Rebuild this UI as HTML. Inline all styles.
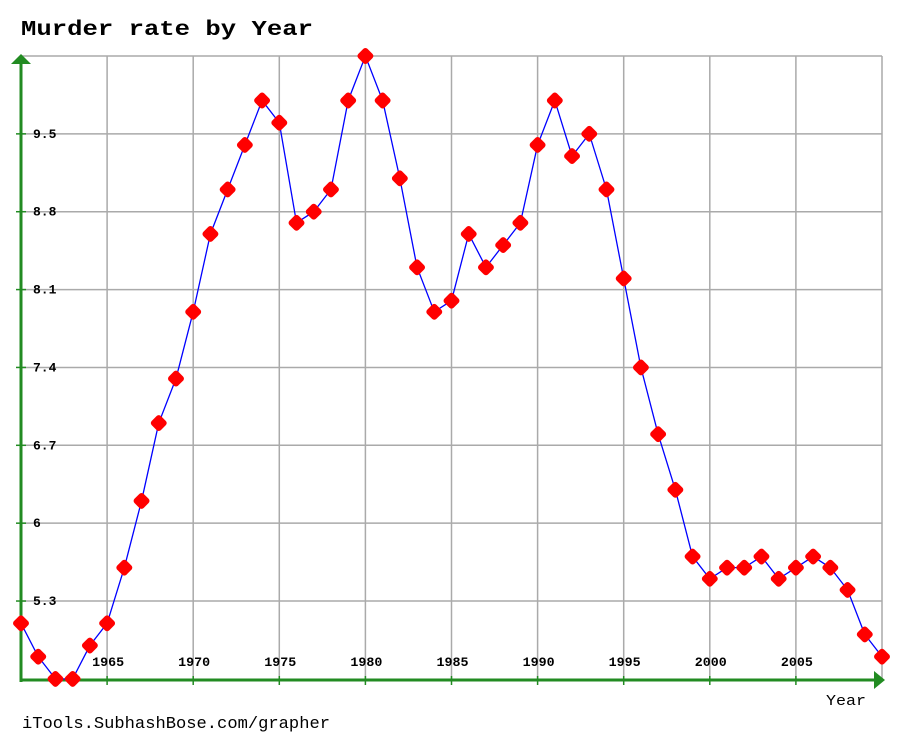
<!DOCTYPE html>
<html><head><meta charset="utf-8"><style>
body{margin:0;background:#fff;}
svg text{font-family:"Liberation Mono",monospace;}
</style></head><body>
<svg width="905" height="736" viewBox="0 0 905 736" xmlns="http://www.w3.org/2000/svg">
<text x="21" y="35" font-size="21" font-weight="bold" fill="#000" textLength="292" lengthAdjust="spacingAndGlyphs">Murder rate by Year</text>
<g id="grid"></g>
<g id="axes"></g>
<polyline id="line" fill="none" stroke="#0000ff" stroke-width="1.3"/>
<g id="pts"></g>
<text x="826" y="705" font-size="15" fill="#000" textLength="40" lengthAdjust="spacingAndGlyphs">Year</text>
<text x="22" y="728" font-size="17" fill="#000" textLength="308" lengthAdjust="spacingAndGlyphs">iTools.SubhashBose.com/grapher</text>
</svg>
<script>
const years = [1960,1961,1962,1963,1964,1965,1966,1967,1968,1969,1970,1971,1972,1973,1974,1975,1976,1977,1978,1979,1980,1981,1982,1983,1984,1985,1986,1987,1988,1989,1990,1991,1992,1993,1994,1995,1996,1997,1998,1999,2000,2001,2002,2003,2004,2005,2006,2007,2008,2009,2010];
const rates = [5.1,4.8,4.6,4.6,4.9,5.1,5.6,6.2,6.9,7.3,7.9,8.6,9.0,9.4,9.8,9.6,8.7,8.8,9.0,9.8,10.2,9.8,9.1,8.3,7.9,8.0,8.6,8.3,8.5,8.7,9.4,9.8,9.3,9.5,9.0,8.2,7.4,6.8,6.3,5.7,5.5,5.6,5.6,5.7,5.5,5.6,5.7,5.6,5.4,5.0,4.8];
const xTicks = [1965,1970,1975,1980,1985,1990,1995,2000,2005];
const yTicks = [5.3,6,6.7,7.4,8.1,8.8,9.5];
const yTickLabels = ["5.3","6","6.7","7.4","8.1","8.8","9.5"];
const NS="http://www.w3.org/2000/svg";
const L=21,R=882,T=56,B=680;
const xMin=1960,xMax=2010,yMin=4.59,yMax=10.2;
const xs=v=>L+(v-xMin)/(xMax-xMin)*(R-L);
const ys=v=>B-(v-yMin)/(yMax-yMin)*(B-T);
function mk(tag,attrs,parent){const e=document.createElementNS(NS,tag);for(const k in attrs)e.setAttribute(k,attrs[k]);parent.appendChild(e);return e;}
const grid=document.getElementById('grid'),axes=document.getElementById('axes');
mk('line',{x1:L,y1:T,x2:R,y2:T,stroke:'#aaa','stroke-width':1.5},grid);
mk('line',{x1:R,y1:T,x2:R,y2:B,stroke:'#aaa','stroke-width':1.5},grid);
xTicks.forEach(t=>{const x=xs(t);
 const g=mk('line',{x1:x,y1:T,x2:x,y2:B,stroke:'#aaa','stroke-width':1.5},grid);
 
 
 const tk=mk('line',{x1:x,y1:B-4,x2:x,y2:B+5,stroke:'#228b22','stroke-width':1.5},axes);
 
 
 const tx=mk('text',{x:x-15,y:B-14,'font-size':13,'font-weight':'bold',fill:'#000',textLength:32,lengthAdjust:'spacingAndGlyphs'},axes);tx.textContent=t;
 
 
});
yTicks.forEach((t,i)=>{const y=ys(t);
 const g=mk('line',{x1:L,y1:y,x2:R,y2:y,stroke:'#aaa','stroke-width':1.5},grid);
 
 
 const tk=mk('line',{x1:L-5,y1:y,x2:L+5,y2:y,stroke:'#228b22','stroke-width':1.5},axes);
 
 
 const tx=mk('text',{x:L+12,y:y+4,'font-size':13,'font-weight':'bold',fill:'#000'},axes);tx.textContent=yTickLabels[i];
 
 
});
const ya=mk('line',{x1:L,y1:B+2,x2:L,y2:T+8,stroke:'#228b22','stroke-width':3},axes);


mk('polygon',{points:`${L-10},${T+8} ${L},${T-2} ${L+10},${T+8}`,fill:'#228b22'},axes);
const xa=mk('line',{x1:L-1,y1:B,x2:R-8,y2:B,stroke:'#228b22','stroke-width':3},axes);


mk('polygon',{points:`${R-8},${B-9} ${R+3},${B} ${R-8},${B+9}`,fill:'#228b22'},axes);
document.getElementById('line').setAttribute('points',years.map((y,i)=>xs(y)+','+ys(rates[i])).join(' '));
const pts=document.getElementById('pts');
years.forEach((yr,i)=>{const x=xs(yr),y=ys(rates[i]);
 const p=mk('rect',{x:x-6.5,y:y-6.5,width:13,height:13,rx:3,fill:'#ff0000',transform:`rotate(45 ${x} ${y})`},pts);
 
 
});
</script>
</body></html>
